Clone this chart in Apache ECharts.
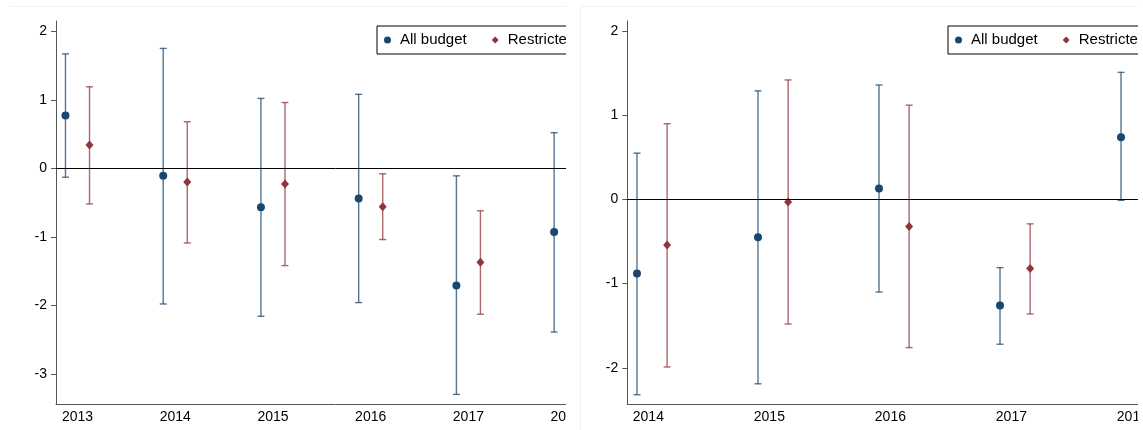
<!DOCTYPE html>
<html>
<head>
<meta charset="utf-8">
<script src="https://cdn.jsdelivr.net/npm/echarts@6/dist/echarts.min.js"></script>
<style>
  html, body { margin: 0; padding: 0; background: #fff; }
  #page { position: relative; width: 1143px; height: 430px; overflow: hidden; background: #fff; }
  .panel { position: absolute; top: 0; height: 430px; overflow: hidden; }
  .chart { position: absolute; left: 0; top: 0; width: 720px; height: 430px; }
</style>
</head>
<body>
<div id="page">
  <div class="panel" style="left:0;width:566px"><div class="chart" id="chartA"></div></div>
  <div class="panel" style="left:580px;width:558px"><div class="chart" id="chartB"></div></div>
</div>
<script>
// Series names
const seriesNames = ['All budget', 'Restricted budget'];

// Panel A: estimates and 95% intervals by year
const yearsA = [2013, 2014, 2015, 2016, 2017, 2018];
const allA = [0.77, -0.11, -0.57, -0.44, -1.71, -0.93];
const allLowA = [-0.13, -1.98, -2.16, -1.96, -3.30, -2.39];
const allHighA = [1.67, 1.75, 1.02, 1.08, -0.11, 0.52];
const resA = [0.34, -0.20, -0.23, -0.56, -1.37, null];
const resLowA = [-0.52, -1.09, -1.42, -1.04, -2.13, null];
const resHighA = [1.19, 0.68, 0.96, -0.08, -0.62, null];
const yTicksA = [-3, -2, -1, 0, 1, 2];

// Panel B: estimates and 95% intervals by year
const yearsB = [2014, 2015, 2016, 2017, 2018];
const allB = [-0.88, -0.45, 0.13, -1.26, 0.74];
const allLowB = [-2.32, -2.19, -1.10, -1.72, -0.01];
const allHighB = [0.55, 1.29, 1.36, -0.81, 1.51];
const resB = [-0.54, -0.03, -0.32, -0.82, null];
const resLowB = [-1.99, -1.48, -1.76, -1.36, null];
const resHighB = [0.90, 1.42, 1.12, -0.29, null];
const yTicksB = [-2, -1, 0, 1, 2];

const NAVY = '#1a476f';
const MAROON = '#90353b';
const FONT = '"Liberation Sans", Arial, Helvetica, sans-serif';

function ciSeries(name, color, years, off, low, high) {
  const data = [];
  years.forEach((y, i) => {
    if (low[i] != null && high[i] != null) data.push([y + off, low[i], high[i]]);
  });
  return {
    type: 'custom',
    name: name + ' CI',
    z: 1,
    silent: true,
    data: data,
    renderItem: function (params, api) {
      const x = api.value(0);
      const pLo = api.coord([x, api.value(1)]);
      const pHi = api.coord([x, api.value(2)]);
      const half = 3.5;
      const style = { stroke: color, lineWidth: 1.4, opacity: 0.75 };
      return {
        type: 'group',
        children: [
          { type: 'line', shape: { x1: pLo[0], y1: pLo[1], x2: pHi[0], y2: pHi[1] }, style: style },
          { type: 'line', shape: { x1: pLo[0] - half, y1: pLo[1], x2: pLo[0] + half, y2: pLo[1] }, style: style },
          { type: 'line', shape: { x1: pHi[0] - half, y1: pHi[1], x2: pHi[0] + half, y2: pHi[1] }, style: style }
        ]
      };
    }
  };
}

function pointSeries(name, color, symbol, size, years, off, vals, withZero) {
  const data = [];
  years.forEach((y, i) => { if (vals[i] != null) data.push([y + off, vals[i]]); });
  const s = {
    type: 'scatter',
    name: name,
    z: 3,
    symbol: symbol,
    symbolSize: size,
    itemStyle: { color: color, opacity: 1 },
    data: data
  };
  if (withZero) {
    s.markLine = {
      silent: true,
      symbol: ['none', 'none'],
      label: { show: false },
      lineStyle: { color: '#000', width: 1, type: 'solid' },
      data: [{ yAxis: 0 }]
    };
  }
  return s;
}

function makeOption(cfg) {
  return {
    animation: false,
    backgroundColor: '#fff',
    graphic: cfg.frame,
    grid: { left: cfg.gridLeft, top: 21, width: cfg.gridWidth, height: 383 },
    legend: {
      data: [
        { name: seriesNames[0], icon: 'circle' },
        { name: seriesNames[1], icon: 'diamond' }
      ],
      left: cfg.legendLeft,
      top: 26,
      orient: 'horizontal',
      itemWidth: 7,
      itemHeight: 7,
      itemGap: 25,
      padding: [6, 10, 6, 7],
      borderColor: '#000',
      borderWidth: 1,
      backgroundColor: '#fff',
      selectedMode: false,
      textStyle: { fontFamily: FONT, fontSize: 15, color: '#000', lineHeight: 16, padding: [0, 0, 0, 4] }
    },
    xAxis: {
      type: 'value',
      min: cfg.xMin,
      max: cfg.xMax,
      splitLine: { show: false },
      axisLine: { show: true, onZero: false, lineStyle: { color: '#555', width: 1 } },
      axisTick: { show: false },
      axisLabel: {
        customValues: cfg.years,
        formatter: v => String(v),
        margin: 6,
        fontFamily: FONT,
        fontSize: 14,
        color: '#000'
      }
    },
    yAxis: {
      type: 'value',
      min: cfg.yMin,
      max: cfg.yMax,
      splitLine: { show: false },
      axisLine: { show: true, onZero: false, lineStyle: { color: '#555', width: 1 } },
      axisTick: { show: true, length: 5, customValues: cfg.yTicks, lineStyle: { color: '#555' } },
      axisLabel: {
        customValues: cfg.yTicks,
        margin: 9,
        fontFamily: FONT,
        fontSize: 14,
        color: '#000'
      }
    },
    series: [
      ciSeries(seriesNames[0], NAVY, cfg.years, cfg.offAll, cfg.allLow, cfg.allHigh),
      ciSeries(seriesNames[1], MAROON, cfg.years, cfg.offRes, cfg.resLow, cfg.resHigh),
      pointSeries(seriesNames[0], NAVY, 'circle', 8, cfg.years, cfg.offAll, cfg.all, true),
      pointSeries(seriesNames[1], MAROON, 'diamond', [8, 9], cfg.years, cfg.offRes, cfg.res, false)
    ]
  };
}

const chartA = echarts.init(document.getElementById('chartA'), null, { renderer: 'canvas' });
chartA.setOption(makeOption({
  years: yearsA, all: allA, allLow: allLowA, allHigh: allHighA,
  res: resA, resLow: resLowA, resHigh: resHighA, yTicks: yTicksA,
  gridLeft: 56, gridWidth: 559, xMin: 2012.78, xMax: 2018.5,
  yMin: -3.44, yMax: 2.15, offAll: -0.123, offRes: 0.123, legendLeft: 377,
  frame: [{ type: 'line', shape: { x1: 10, y1: 6.5, x2: 720, y2: 6.5 }, style: { stroke: '#f0f0f0', lineWidth: 1 }, silent: true }]
}));

const chartB = echarts.init(document.getElementById('chartB'), null, { renderer: 'canvas' });
chartB.setOption(makeOption({
  years: yearsB, all: allB, allLow: allLowB, allHigh: allHighB,
  res: resB, resLow: resLowB, resHigh: resHighB, yTicks: yTicksB,
  gridLeft: 47.3, gridWidth: 565.6, xMin: 2013.826, xMax: 2018.5,
  yMin: -2.43, yMax: 2.12, offAll: -0.094, offRes: 0.155, legendLeft: 368,
  frame: [
    { type: 'line', shape: { x1: 0.5, y1: 6.5, x2: 720, y2: 6.5 }, style: { stroke: '#f0f0f0', lineWidth: 1 }, silent: true },
    { type: 'line', shape: { x1: 0.5, y1: 6.5, x2: 0.5, y2: 430 }, style: { stroke: '#f0f0f0', lineWidth: 1 }, silent: true }
  ]
}));
</script>
</body>
</html>
